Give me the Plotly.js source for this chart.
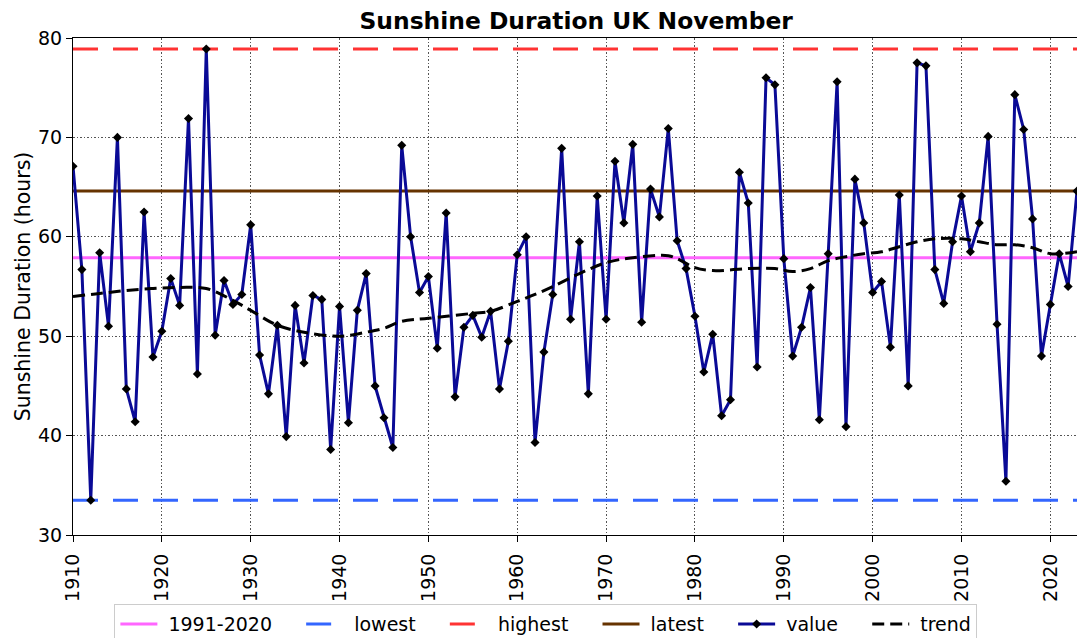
<!DOCTYPE html>
<html>
<head>
<meta charset="utf-8">
<script src="https://cdn.plot.ly/plotly-3.0.1.min.js"></script>
<style>html,body{margin:0;padding:0;background:#fff;}#chart{width:1077px;height:638px;}</style>
</head>
<body>
<div id="chart"></div>
<script>
const startYear = 1910;
const values = [
  67.1, 56.7, 33.5, 58.4, 51.0, 70.0, 44.7, 41.4, 62.5, 47.9,
  50.5, 55.8, 53.1, 71.9, 46.2, 78.9, 50.1, 55.6, 53.2, 54.2,
  61.2, 48.1, 44.2, 51.1, 39.9, 53.1, 47.3, 54.1, 53.7, 38.6,
  53.0, 41.3, 52.6, 56.3, 45.0, 41.8, 38.8, 69.2, 60.0, 54.4,
  56.0, 48.8, 62.4, 43.9, 50.9, 52.1, 49.9, 52.5, 44.7, 49.5,
  58.2, 60.0, 39.3, 48.4, 54.2, 68.9, 51.7, 59.5, 44.2, 64.1,
  51.7, 67.6, 61.4, 69.3, 51.4, 64.8, 62.0, 70.9, 59.6, 56.8,
  52.0, 46.4, 50.2, 42.0, 43.6, 66.5, 63.4, 46.9, 76.0, 75.3,
  57.8, 48.0, 50.9, 54.9, 41.6, 58.3, 75.6, 40.9, 65.8, 61.4,
  54.4, 55.5, 48.9, 64.2, 45.0, 77.5, 77.2, 56.7, 53.3, 59.5,
  64.1, 58.5, 61.4, 70.1, 51.2, 35.4, 74.3, 70.8, 61.8, 48.0,
  53.2, 58.3, 55.0, 64.6
];
const years = values.map((v, i) => startYear + i);

const trendYears = [1910,1913,1916,1919,1922,1925,1928,1930,1933,1936,1940,1943,1945,1947,1950,1955,1957,1960,1962,1964,1967,1970,1973,1977,1978,1980,1982,1986,1989,1991,1993,1995,1997,1999,2001,2003,2005,2007,2010,2012,2014,2016,2018,2020,2023];
const trendValues = [54.0,54.3,54.6,54.8,54.9,54.8,53.6,52.6,51.1,50.4,50.0,50.4,50.8,51.5,51.8,52.3,52.5,53.5,54.2,55.0,56.3,57.4,57.9,58.1,57.8,56.9,56.6,56.8,56.8,56.5,56.8,57.6,58.0,58.3,58.5,59.0,59.5,59.8,59.8,59.5,59.2,59.2,58.9,58.3,58.5];

const refNames = ['1991-2020', 'lowest', 'highest', 'latest'];
const refValues = [57.9, 33.5, 78.9, 64.6];
const xRange = [1910, 2023];
const yTicks = [30, 40, 50, 60, 70, 80];
const xTicks = [1910, 1920, 1930, 1940, 1950, 1960, 1970, 1980, 1990, 2000, 2010, 2020];

const lead = '\u00a0';
const pad = '\u00a0\u00a0\u00a0\u00a0';
const refStyles = [
  {color: '#ff66ff', width: 3, dash: 'solid'},
  {color: '#3366ff', width: 3, dash: '25px,15px'},
  {color: '#ff3333', width: 3, dash: '25px,15px'},
  {color: '#663300', width: 3, dash: 'solid'}
];

const traces = refNames.map((n, i) => ({
  x: xRange, y: [refValues[i], refValues[i]], name: lead + n + pad, mode: 'lines',
  line: refStyles[i], hoverinfo: 'skip'
}));
traces.push({
  x: years, y: values, name: lead + 'value' + pad, mode: 'lines+markers',
  line: {color: '#0a0a96', width: 3},
  marker: {symbol: 'diamond', size: 7, color: '#000000'},
  cliponaxis: true
});
traces.push({
  x: trendYears, y: trendValues, name: lead + 'trend', mode: 'lines',
  line: {color: '#000000', width: 3, dash: '12px,6px', shape: 'spline', smoothing: 1}
});

const font = 'DejaVu Sans';
const gridDash = '1.5px,2px';
const layout = {
  width: 1077, height: 638,
  margin: {l: 73, r: 0, t: 38, b: 103, pad: 0, autoexpand: false},
  paper_bgcolor: '#ffffff', plot_bgcolor: '#ffffff',
  font: {family: font, size: 19, color: '#000'},
  title: {text: '<b>Sunshine Duration UK November</b>', x: 0.535, xanchor: 'center', y: 0.968, yanchor: 'middle', font: {family: font, size: 23.4, color: '#000'}},
  showlegend: true,
  legend: {
    orientation: 'h', x: 0.471, xanchor: 'center', y: -0.139, yanchor: 'top',
    bordercolor: '#cccccc', borderwidth: 1, bgcolor: '#ffffff', itemwidth: 37,
    font: {family: font, size: 19, color: '#000'}, traceorder: 'normal'
  },
  xaxis: {
    range: xRange, tickmode: 'array', tickvals: xTicks, tickangle: -90,
    showgrid: true, gridcolor: '#555555', griddash: gridDash, gridwidth: 1,
    showline: true, linecolor: '#000', linewidth: 1, mirror: true,
    ticks: 'outside', ticklen: 6, tickcolor: '#000', zeroline: false,
    ticklabelstandoff: 4, automargin: false,
    tickfont: {family: font, size: 19, color: '#000'}
  },
  yaxis: {
    range: [30, 80], tickmode: 'array', tickvals: yTicks,
    showgrid: true, gridcolor: '#555555', griddash: gridDash, gridwidth: 1,
    showline: true, linecolor: '#000', linewidth: 1, mirror: true,
    ticks: 'outside', ticklen: 6, tickcolor: '#000', zeroline: false, automargin: false,
    tickfont: {family: font, size: 19, color: '#000'},
    title: {text: 'Sunshine Duration (hours)', standoff: 1, font: {family: font, size: 20.5, color: '#000'}}
  }
};

Plotly.newPlot('chart', traces, layout, {displayModeBar: false, staticPlot: true});
</script>
</body>
</html>
